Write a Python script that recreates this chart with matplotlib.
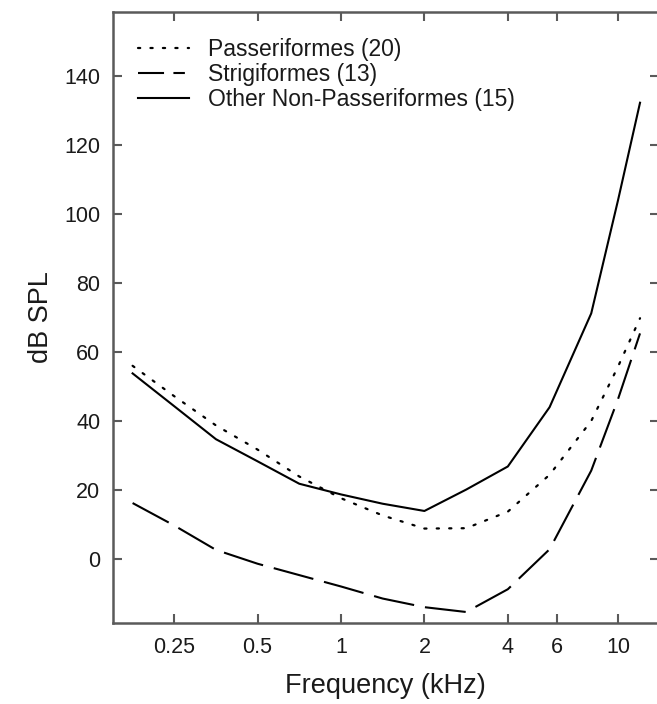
import matplotlib
matplotlib.use('Agg')
import matplotlib.pyplot as plt
from matplotlib.lines import Line2D

plt.rcParams['font.family'] = ['Liberation Sans', 'DejaVu Sans']

# frequenze in kHz (mezze ottave) e soglie in dB SPL
freq = [0.177, 0.25, 0.354, 0.5, 0.707, 1.0, 1.414, 2.0, 2.83, 4.0, 5.66, 8.0, 10.0, 12.0]
passeriformes = [55.9, 47.1, 38.6, 31.6, 23.8, 17.5, 12.5, 8.7, 8.8, 13.6, 24.3, 39.9, 55.7, 69.7]
strigiformes = [16.1, 9.6, 2.5, -1.5, -4.8, -8.1, -11.6, -14.1, -15.5, -8.9, 2.7, 25.5, 46.3, 65.3]
other_non_pass = [53.7, 44.2, 34.6, 28.2, 21.7, 18.6, 15.9, 13.8, 20.0, 26.7, 43.9, 71.1, 104.0, 132.2]

labels = ['Passeriformes (20)', 'Strigiformes (13)', 'Other Non-Passeriformes (15)']
xticks = [0.25, 0.5, 1, 2, 4, 6, 10]
xticklabels = ['0.25', '0.5', '1', '2', '4', '6', '10']
yticks = [0, 20, 40, 60, 80, 100, 120, 140]

fig = plt.figure(figsize=(6.57, 7.04), dpi=100)
ax = fig.add_axes([0.1715, 0.1155, 0.8309, 0.8679])

dot_style = (0, (1, 4.6))
ax.plot(freq, passeriformes, color='black', lw=1.6, linestyle=dot_style, dash_capstyle='round')
ax.plot(freq, strigiformes, color='black', lw=1.5, linestyle=(0, (19.7, 5.3)))
ax.plot(freq, other_non_pass, color='black', lw=1.5)

ax.set_xscale('log')
ax.set_xlim(0.15, 14)
ax.set_ylim(-18.6, 158.6)
ax.set_xticks(xticks)
ax.set_xticklabels(xticklabels)
ax.minorticks_off()
ax.set_yticks(yticks)

spine_col = '#5a5a5a'
for s in ax.spines.values():
    s.set_color(spine_col)
    s.set_linewidth(1.8)
ax.tick_params(direction='in', length=6.2, width=1.5, color=spine_col,
               labelsize=15.5, labelcolor='#1a1a1a', top=True, right=True)
ax.tick_params(axis='x', pad=10)
ax.tick_params(axis='y', pad=9)

ax.set_xlabel('Frequency (kHz)', fontsize=19.5, color='#1a1a1a')
ax.set_ylabel('dB SPL', fontsize=19.5, color='#1a1a1a')
ax.xaxis.set_label_coords(0.5, -0.083)
ax.yaxis.set_label_coords(-0.108, 0.5)

# maniglie della legenda come nell'originale (tratteggio lungo + corto)
handles = [Line2D([], [], color='black', lw=1.6, linestyle=dot_style, dash_capstyle='round'),
           Line2D([], [], color='black', lw=1.5, linestyle=(0, (12.5, 4.5, 5.5, 10))),
           Line2D([], [], color='black', lw=1.5)]
leg = ax.legend(handles, labels, loc='upper left', frameon=False, fontsize=16.5,
                handlelength=2.2, handletextpad=0.85, labelspacing=0.08,
                bbox_to_anchor=(0.03, 0.972), borderaxespad=0)
for t in leg.get_texts():
    t.set_color('#1a1a1a')

fig.savefig('out.png', dpi=100)
